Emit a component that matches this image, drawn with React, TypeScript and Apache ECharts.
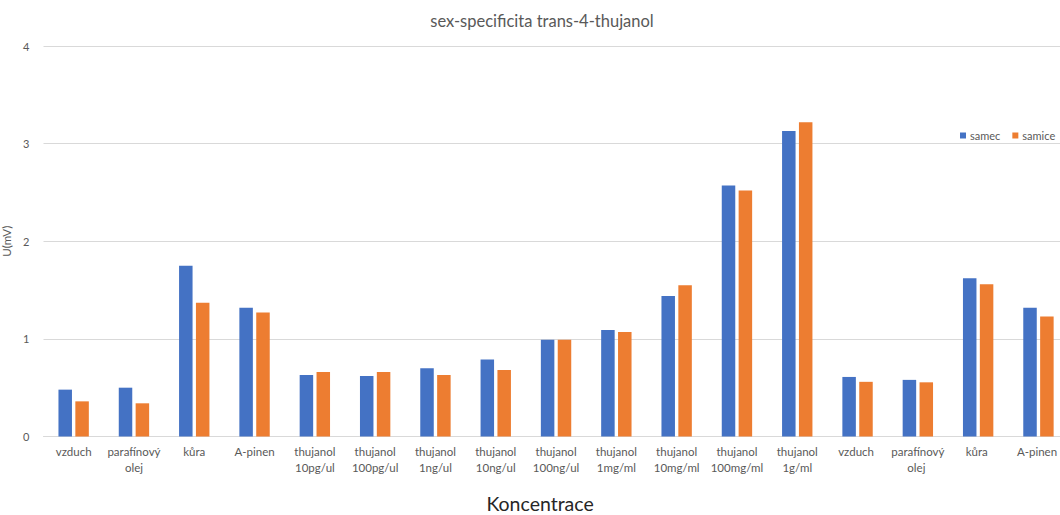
import React, { useEffect, useRef } from "react";
import * as echarts from "echarts";

const categories = [
  "vzduch",
  "parafínový\nolej",
  "kůra",
  "A-pinen",
  "thujanol\n10pg/ul",
  "thujanol\n100pg/ul",
  "thujanol\n1ng/ul",
  "thujanol\n10ng/ul",
  "thujanol\n100ng/ul",
  "thujanol\n1mg/ml",
  "thujanol\n10mg/ml",
  "thujanol\n100mg/ml",
  "thujanol\n1g/ml",
  "vzduch ",
  "parafínový\nolej ",
  "kůra ",
  "A-pinen ",
];

const samec = [0.48, 0.5, 1.75, 1.32, 0.63, 0.62, 0.7, 0.79, 0.99, 1.09, 1.44, 2.57, 3.13, 0.61, 0.58, 1.62, 1.32];
const samice = [0.36, 0.34, 1.37, 1.27, 0.66, 0.66, 0.63, 0.68, 0.99, 1.07, 1.55, 2.52, 3.22, 0.56, 0.555, 1.56, 1.23];

const yTicks = [0, 1, 2, 3, 4];

export default function App() {
  const ref = useRef<HTMLDivElement>(null);
  useEffect(() => {
    if (!ref.current) return;
    const chart = echarts.init(ref.current, null, { renderer: "svg" });
    const font = "Lato, 'Noto Sans', sans-serif";
    chart.setOption({
      animation: false,
      textStyle: { fontFamily: font },
      title: {
        text: "sex-specificita trans-4-thujanol",
        left: 537,
        textAlign: "center",
        top: 7,
        textStyle: { fontSize: 16.5, fontWeight: "normal", color: "#595959", fontFamily: font },
      },
      legend: {
        left: 955,
        top: 125,
        itemWidth: 6,
        itemHeight: 6,
        itemGap: 12,
        icon: "rect",
        textStyle: { fontSize: 11, color: "#595959", fontFamily: font, padding: [0, 0, 0, -1] },
        data: ["samec", "samice"],
      },
      grid: { left: 43.5, right: 11.4, top: 46, bottom: 78.5, containLabel: false, outerBoundsMode: "none" },
      xAxis: {
        type: "category",
        data: categories,
        name: "Koncentrace",
        nameLocation: "middle",
        nameGap: 57,
        nameTextStyle: { fontSize: 19.5, lineHeight: 20, color: "#262626", fontFamily: font, padding: [0, 32, 0, 0] },
        axisLine: { lineStyle: { color: "#d9d9d9" } },
        axisTick: { show: false },
        axisLabel: {
          interval: 0,
          fontSize: 11.5,
          color: "#595959",
          lineHeight: 16,
          margin: 7,
          fontFamily: font,
        },
      },
      yAxis: {
        type: "value",
        min: yTicks[0],
        max: yTicks[yTicks.length - 1],
        interval: 1,
        name: "U(mV)",
        nameLocation: "middle",
        nameGap: 29,
        nameTextStyle: { fontSize: 11.5, color: "#595959", fontFamily: font },
        axisLine: { show: false },
        axisTick: { show: false },
        axisLabel: { fontSize: 11, color: "#595959", margin: 14, fontFamily: font },
        splitLine: { lineStyle: { color: "#d9d9d9", width: 1 } },
      },
      series: [
        {
          name: "samec",
          type: "bar",
          data: samec,
          barWidth: 13.5,
          barGap: "25%",
          itemStyle: { color: "#4472c4" },
        },
        {
          name: "samice",
          type: "bar",
          data: samice,
          barWidth: 13.5,
          itemStyle: { color: "#ed7d31" },
        },
      ],
    });
    return () => chart.dispose();
  }, []);
  return (
    <div style={{ position: "absolute", left: 0, top: 0, width: 1060, height: 515, overflow: "hidden", background: "#fff" }}>
      <div ref={ref} style={{ width: 1080, height: 515 }} />
    </div>
  );
}
